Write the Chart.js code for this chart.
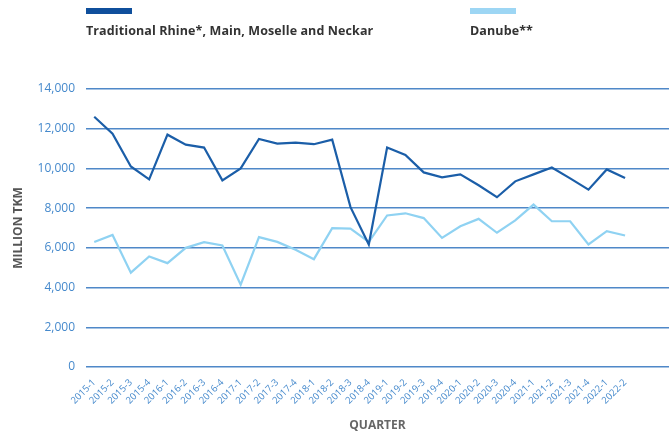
<!DOCTYPE html>
<html>
<head>
<meta charset="utf-8">
<script src="https://cdn.jsdelivr.net/npm/chart.js@4"></script>
<style>
  body { margin: 0; background: #fff; }
  #wrap { position: relative; width: 669px; height: 433px; }
  .lg { position: absolute; top: 8px; font: bold 12.5px "Open Sans", sans-serif; color: #333; letter-spacing: 0.1px; }
  .lg span { display: block; width: 46px; height: 6px; margin-bottom: 8px; }
</style>
</head>
<body>
<div id="wrap">
  <canvas id="myChart" width="669" height="433"></canvas>
  <div class="lg" style="left:86px"><span style="background:#0f4f9c"></span>Traditional Rhine*, Main, Moselle and Neckar</div>
  <div class="lg" style="left:470px"><span style="background:#9dd6f4"></span>Danube**</div>
</div>
<script>
let quarters = ["2015-1","2015-2","2015-3","2015-4","2016-1","2016-2","2016-3","2016-4",
  "2017-1","2017-2","2017-3","2017-4","2018-1","2018-2","2018-3","2018-4",
  "2019-1","2019-2","2019-3","2019-4","2020-1","2020-2","2020-3","2020-4",
  "2021-1","2021-2","2021-3","2021-4","2022-1","2022-2"];

// million TKM
let rhineData = [12600, 11750, 10100, 9450, 11700, 11200, 11050, 9400,
  10000, 11480, 11250, 11300, 11220, 11450, 8050, 6170,
  11050, 10680, 9800, 9550, 9700, 9150, 8550, 9350,
  9700, 10050, 9500, 8930, 9950, 9520];
let danubeData = [6290, 6650, 4750, 5570, 5230, 6000, 6290, 6120,
  4150, 6540, 6300, 5900, 5430, 6990, 6970, 6300,
  7630, 7740, 7500, 6500, 7090, 7460, 6760, 7380,
  8180, 7340, 7340, 6170, 6840, 6620];

let toPoints = function(arr) {
  return arr.map(function(v, i) { return {x: i, y: v}; });
};

var ctx = document.getElementById('myChart').getContext('2d');
var myLinechart = new Chart(ctx, {
  type: 'line',
  data: {
    datasets: [{
      label: 'Traditional Rhine*, Main, Moselle and Neckar',
      data: toPoints(rhineData),
      borderColor: '#1b5ea8',
      borderWidth: 2.2,
      pointRadius: 0,
      tension: 0
    }, {
      label: 'Danube**',
      data: toPoints(danubeData),
      borderColor: '#8fd2f2',
      borderWidth: 2.2,
      pointRadius: 0,
      tension: 0
    }]
  },
  options: {
    responsive: false,
    animation: false,
    layout: { padding: { top: 89, right: 0, left: 11, bottom: 0 } },
    plugins: { legend: { display: false }, tooltip: { enabled: false } },
    scales: {
      x: {
        type: 'linear',
        min: -0.45,
        max: 31.4,
        afterBuildTicks: function(scale) {
          scale.ticks = quarters.map(function(q, i) { return {value: i}; });
        },
        afterFit: function(scale) { scale.height = 66; },
        grid: { display: false },
        border: { display: false },
        ticks: {
          autoSkip: false,
          minRotation: 45,
          maxRotation: 45,
          padding: 2,
          color: '#4589cc',
          font: { family: 'Open Sans', size: 9.5 },
          callback: function(v) { return quarters[v]; }
        },
        title: {
          display: true,
          text: 'QUARTER',
          color: '#666',
          padding: { top: 0, bottom: 0 },
          font: { family: 'Open Sans', size: 12, weight: 'bold' }
        }
      },
      y: {
        min: 0,
        max: 14000,
        afterFit: function(scale) { scale.width = 75; },
        grid: { color: '#4f88c8', lineWidth: 1.5, drawTicks: false },
        border: { display: false },
        ticks: {
          stepSize: 2000,
          padding: 11,
          color: '#4589cc',
          font: { family: 'Open Sans', size: 12 },
          callback: function(v) { return v.toLocaleString('en-US'); }
        },
        title: {
          display: true,
          text: 'MILLION TKM',
          color: '#555',
          padding: { top: 0, bottom: 4 },
          font: { family: 'Open Sans', size: 12, weight: 'bold' }
        }
      }
    }
  }
});
</script>
</body>
</html>
